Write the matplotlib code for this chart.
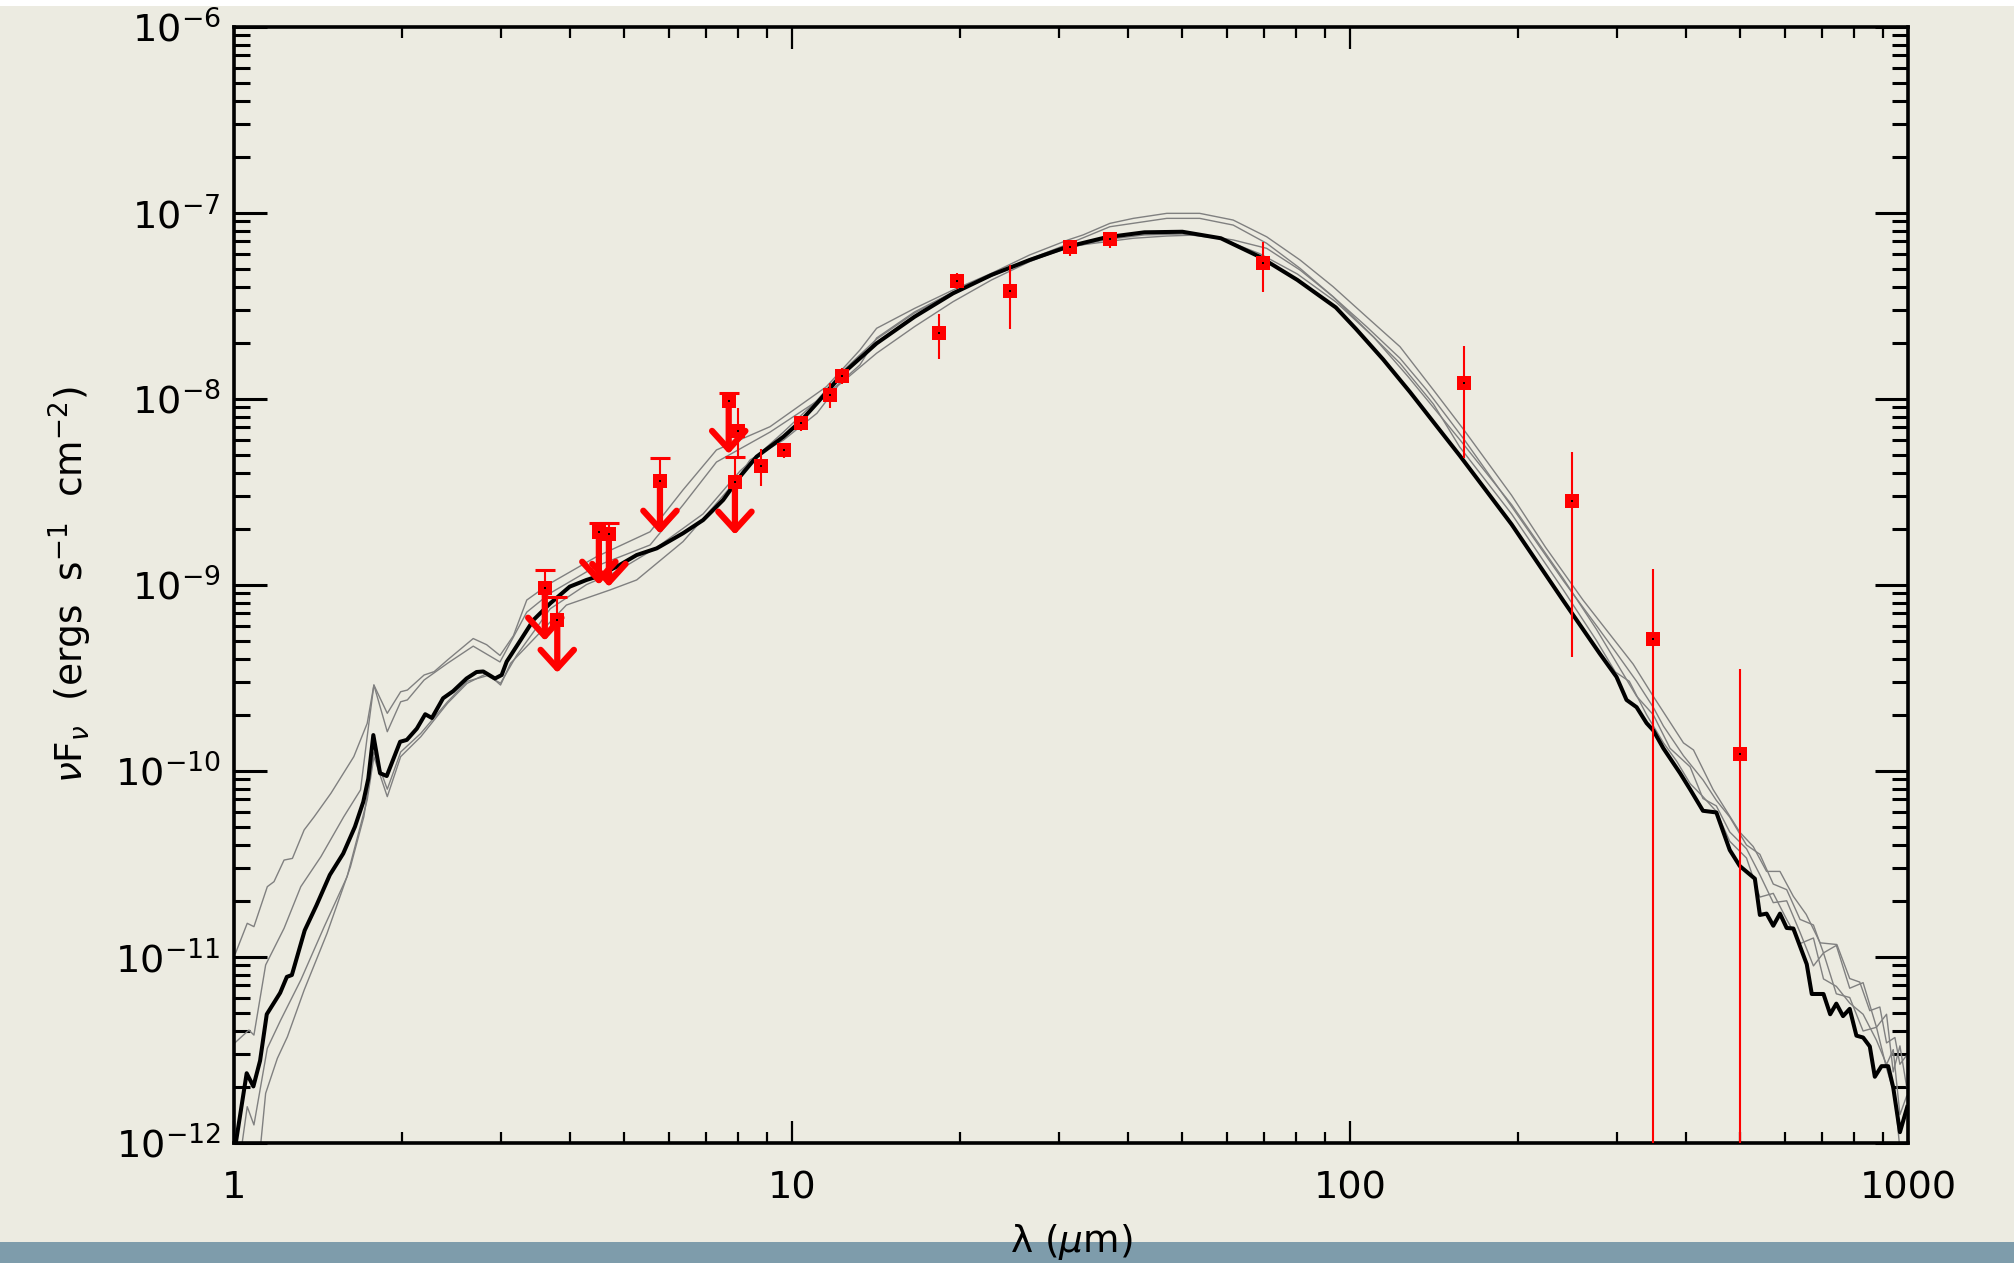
import numpy as np
import matplotlib
matplotlib.use("Agg")
import matplotlib.pyplot as plt
from matplotlib import ticker
from matplotlib.patches import Rectangle

plt.rcParams['font.family'] = ['DejaVu Sans']
plt.rcParams['mathtext.fontset'] = 'dejavusans'

# best-fit model SED (log10 wavelength in micron, log10 nuFnu in erg/s/cm2)
best_loglam = [0.000, 0.022, 0.034, 0.046, 0.058, 0.082, 0.094, 0.103, 0.126, 0.147,
               0.171, 0.195, 0.216, 0.231, 0.240, 0.249, 0.261, 0.273, 0.297, 0.309,
               0.327, 0.342, 0.354, 0.374, 0.392, 0.416, 0.434, 0.446, 0.467, 0.479,
               0.488, 0.513, 0.536, 0.566, 0.601, 0.631, 0.649, 0.685, 0.721, 0.757,
               0.804, 0.840, 0.876, 0.906, 0.936, 0.984, 1.014, 1.044, 1.091, 1.151,
               1.219, 1.288, 1.357, 1.425, 1.494, 1.562, 1.631, 1.699, 1.768, 1.837,
               1.905, 1.974, 2.010, 2.059, 2.107, 2.150, 2.196, 2.289, 2.382, 2.447,
               2.477, 2.495, 2.513, 2.531, 2.543, 2.561, 2.591, 2.609, 2.632, 2.656,
               2.680, 2.698, 2.725, 2.734, 2.746, 2.758, 2.770, 2.782, 2.794, 2.818,
               2.827, 2.848, 2.860, 2.871, 2.883, 2.895, 2.907, 2.919, 2.931, 2.940,
               2.952, 2.964, 2.973, 2.985, 2.998]
best_logflux = [-12.05, -11.627, -11.698, -11.560, -11.310, -11.195, -11.109, -11.099, -10.859, -10.725,
                -10.561, -10.446, -10.302, -10.168, -10.043, -9.809, -10.014, -10.029, -9.845, -9.835,
                -9.774, -9.697, -9.717, -9.611, -9.573, -9.505, -9.470, -9.467, -9.505, -9.486,
                -9.414, -9.298, -9.190, -9.101, -9.011, -8.975, -8.958, -8.904, -8.841, -8.805,
                -8.724, -8.653, -8.545, -8.420, -8.312, -8.205, -8.124, -8.025, -7.864, -7.703,
                -7.560, -7.434, -7.335, -7.255, -7.183, -7.133, -7.106, -7.103, -7.138, -7.237,
                -7.362, -7.510, -7.625, -7.790, -7.965, -8.130, -8.306, -8.676, -9.088, -9.371,
                -9.496, -9.620, -9.659, -9.745, -9.784, -9.880, -10.014, -10.101, -10.216, -10.225,
                -10.427, -10.513, -10.581, -10.776, -10.769, -10.834, -10.769, -10.846, -10.849, -11.041,
                -11.201, -11.201, -11.310, -11.253, -11.320, -11.281, -11.425, -11.435, -11.483, -11.646,
                -11.589, -11.589, -11.704, -11.944, -11.809]

# other acceptable models (grey)
mod1_loglam = [0.002, 0.023, 0.035, 0.059, 0.071, 0.089, 0.104, 0.125, 0.143, 0.173,
               0.214, 0.238, 0.250, 0.274, 0.298, 0.310, 0.340, 0.358, 0.382, 0.428,
               0.452, 0.476, 0.500, 0.524, 0.566, 0.649, 0.745, 0.804, 0.864, 0.960,
               1.061, 1.121, 1.151, 1.219, 1.288, 1.357, 1.425, 1.494, 1.521, 1.569,
               1.611, 1.671, 1.730, 1.790, 1.850, 1.910, 1.969, 2.029, 2.089, 2.149,
               2.204, 2.289, 2.350, 2.417, 2.507, 2.543, 2.597, 2.615, 2.650, 2.698,
               2.722, 2.746, 2.770, 2.794, 2.817, 2.842, 2.872, 2.895, 2.913, 2.931,
               2.949, 2.961, 2.976, 2.985, 2.997]
mod1_logflux = [-10.982, -10.821, -10.839, -10.624, -10.597, -10.481, -10.472, -10.319, -10.248, -10.122,
                -9.925, -9.746, -9.540, -9.692, -9.576, -9.567, -9.486, -9.468, -9.405, -9.290,
                -9.323, -9.381, -9.275, -9.083, -8.993, -8.850, -8.716, -8.491, -8.276, -8.151,
                -7.936, -7.739, -7.622, -7.515, -7.416, -7.326, -7.228, -7.147, -7.120, -7.058,
                -7.031, -7.004, -7.004, -7.040, -7.130, -7.255, -7.398, -7.560, -7.721, -7.954,
                -8.170, -8.520, -8.800, -9.083, -9.428, -9.601, -9.851, -9.889, -10.101, -10.331,
                -10.408, -10.542, -10.542, -10.676, -10.773, -10.926, -10.935, -11.118, -11.137, -11.291,
                -11.271, -11.464, -11.435, -11.579, -11.531]

mod2_loglam = [0.000, 0.026, 0.035, 0.056, 0.089, 0.119, 0.155, 0.196, 0.226, 0.241,
               0.250, 0.274, 0.298, 0.310, 0.340, 0.382, 0.428, 0.476, 0.524, 0.566,
               0.649, 0.745, 0.804, 0.864, 0.960, 1.061, 1.121, 1.151, 1.219, 1.288,
               1.357, 1.425, 1.494, 1.569, 1.671, 1.730, 1.790, 1.850, 1.910, 1.969,
               2.029, 2.089, 2.137, 2.204, 2.289, 2.382, 2.441, 2.475, 2.513, 2.543,
               2.561, 2.597, 2.632, 2.656, 2.680, 2.710, 2.734, 2.758, 2.782, 2.806,
               2.830, 2.848, 2.871, 2.895, 2.919, 2.943, 2.961, 2.973, 2.985, 2.997]
mod2_logflux = [-11.466, -11.395, -11.422, -11.045, -10.848, -10.624, -10.463, -10.248, -10.104, -9.746,
                -9.540, -9.791, -9.630, -9.620, -9.513, -9.423, -9.331, -9.416, -9.148, -9.046,
                -8.900, -8.787, -8.572, -8.341, -8.180, -7.980, -7.819, -7.674, -7.534, -7.427,
                -7.341, -7.250, -7.169, -7.076, -7.031, -7.031, -7.067, -7.165, -7.300, -7.452,
                -7.613, -7.783, -7.954, -8.220, -8.580, -8.980, -9.220, -9.360, -9.520, -9.660,
                -9.760, -9.920, -10.050, -10.160, -10.250, -10.400, -10.450, -10.610, -10.640, -10.800,
                -10.830, -10.980, -10.940, -11.170, -11.140, -11.380, -11.310, -11.620, -11.480, -11.700]

mod3_loglam = [0.000, 0.023, 0.035, 0.059, 0.083, 0.119, 0.161, 0.202, 0.238, 0.250,
               0.274, 0.298, 0.334, 0.382, 0.417, 0.453, 0.477, 0.495, 0.595, 0.673,
               0.721, 0.804, 0.864, 0.900, 0.924, 0.984, 1.044, 1.082, 1.151, 1.219,
               1.288, 1.357, 1.425, 1.494, 1.611, 1.671, 1.730, 1.790, 1.850, 1.910,
               1.969, 2.029, 2.089, 2.149, 2.196, 2.289, 2.382, 2.441, 2.475, 2.500,
               2.531, 2.561, 2.585, 2.609, 2.632, 2.656, 2.680, 2.710, 2.734, 2.758,
               2.782, 2.806, 2.830, 2.848, 2.871, 2.895, 2.919, 2.943, 2.961, 2.973,
               2.985, 2.997]
mod3_logflux = [-12.30, -11.807, -11.905, -11.493, -11.341, -11.126, -10.839, -10.570, -10.158, -9.925,
                -10.140, -9.925, -9.818, -9.638, -9.531, -9.477, -9.540, -9.423, -9.110, -9.029,
                -8.975, -8.769, -8.563, -8.438, -8.330, -8.223, -8.079, -7.930, -7.756, -7.613,
                -7.479, -7.362, -7.264, -7.183, -7.138, -7.126, -7.120, -7.147, -7.192, -7.309,
                -7.452, -7.631, -7.810, -8.030, -8.260, -8.620, -9.030, -9.300, -9.470, -9.520,
                -9.700, -9.850, -9.950, -10.070, -10.140, -10.220, -10.380, -10.470, -10.680, -10.660,
                -10.800, -10.930, -10.900, -11.120, -11.160, -11.250, -11.310, -11.450, -11.580, -11.500,
                -11.850, -11.750]

mod4_loglam = [0.047, 0.056, 0.077, 0.095, 0.125, 0.166, 0.208, 0.232, 0.250, 0.274,
               0.298, 0.334, 0.382, 0.417, 0.453, 0.477, 0.506, 0.566, 0.631, 0.685,
               0.757, 0.840, 0.906, 0.984, 1.044, 1.091, 1.151, 1.219, 1.288, 1.357,
               1.425, 1.494, 1.562, 1.631, 1.699, 1.768, 1.837, 1.905, 1.974, 2.042,
               2.103, 2.196, 2.289, 2.382, 2.441, 2.477, 2.513, 2.543, 2.573, 2.609,
               2.632, 2.656, 2.680, 2.710, 2.734, 2.758, 2.782, 2.806, 2.830, 2.848,
               2.871, 2.895, 2.919, 2.943, 2.961, 2.976, 2.990]
mod4_logflux = [-12.013, -11.735, -11.547, -11.431, -11.180, -10.875, -10.517, -10.248, -9.900, -10.100,
                -9.900, -9.800, -9.630, -9.520, -9.490, -9.530, -9.380, -9.130, -9.000, -8.930,
                -8.800, -8.620, -8.390, -8.180, -8.010, -7.850, -7.680, -7.540, -7.430, -7.340,
                -7.260, -7.190, -7.145, -7.120, -7.115, -7.140, -7.220, -7.330, -7.480, -7.670,
                -7.880, -8.220, -8.570, -8.970, -9.240, -9.420, -9.600, -9.700, -9.880, -9.980,
                -10.150, -10.190, -10.330, -10.420, -10.560, -10.710, -10.700, -10.870, -11.050, -10.980,
                -11.200, -11.220, -11.400, -11.380, -11.600, -11.750, -12.200]

# photometry: detections with errors
det_wave = [7.98, 8.77, 9.66, 10.36, 11.68, 12.27, 18.3, 19.7, 24.5, 31.5, 37.1, 69.8, 160.0, 250.0, 349.0, 500.0]
det_flux = [6.68e-9, 4.34e-9, 5.30e-9, 7.40e-9, 1.045e-8, 1.32e-8, 2.24e-8, 4.28e-8, 3.78e-8,
            6.56e-8, 7.21e-8, 5.33e-8, 1.21e-8, 2.80e-9, 5.08e-10, 1.23e-10]
det_hi = [8.88e-9, 5.35e-9, 5.77e-9, 8.05e-9, 1.21e-8, 1.46e-8, 2.84e-8, 4.72e-8, 5.22e-8,
          7.13e-8, 7.89e-8, 6.92e-8, 1.92e-8, 5.18e-9, 1.22e-9, 3.53e-10]
det_lo = [4.85e-9, 3.39e-9, 4.80e-9, 6.70e-9, 8.89e-9, 1.20e-8, 1.63e-8, 3.88e-8, 2.36e-8,
          5.85e-8, 6.47e-8, 3.76e-8, 4.81e-9, 4.06e-10, 1e-14, 1e-14]

# photometry: upper limits
ul_wave = [3.60, 3.79, 4.50, 4.69, 5.79, 7.69, 7.89]
ul_flux = [9.6e-10, 6.45e-10, 1.92e-9, 1.87e-9, 3.61e-9, 9.7e-9, 3.57e-9]
ul_hi = [1.20e-9, 8.6e-10, 2.15e-9, 2.15e-9, 4.80e-9, 1.07e-8, 4.85e-9]

x_ticks = [1, 10, 100, 1000]
y_ticks = [1e-12, 1e-11, 1e-10, 1e-9, 1e-8, 1e-7, 1e-6]

W, H = 2014, 1263
bg = '#ECEBE1'
fig = plt.figure(figsize=(W / 100, H / 100), dpi=100)
fig.patch.set_facecolor(bg)
fig.add_artist(Rectangle((0, 0), 1, 21 / H, transform=fig.transFigure,
                         facecolor='#7E9CAB', edgecolor='none', zorder=0))
fig.add_artist(Rectangle((0, 1 - 6 / H), 1, 6 / H, transform=fig.transFigure,
                         facecolor='white', edgecolor='none', zorder=0))

ax = fig.add_axes([234.4 / W, 120.4 / H, 1673.9 / W, 1116.0 / H])
ax.set_facecolor('none')
ax.set_xscale('log')
ax.set_yscale('log')

grey = '#808080'
for lx, ly in [(mod1_loglam, mod1_logflux), (mod2_loglam, mod2_logflux),
               (mod3_loglam, mod3_logflux), (mod4_loglam, mod4_logflux)]:
    ax.plot(10 ** np.array(lx), 10 ** np.array(ly), color=grey, lw=1.0, zorder=2)
ax.plot(10 ** np.array(best_loglam), 10 ** np.array(best_logflux), color='black', lw=2.9, zorder=3)

# detections
det_flux = np.array(det_flux)
yerr = [det_flux - np.array(det_lo), np.array(det_hi) - det_flux]
ax.errorbar(det_wave, det_flux, yerr=yerr, fmt='s', color='red', ms=9.5, mew=0,
            elinewidth=1.5, capsize=7, capthick=2.2, zorder=5)

# upper limits: cap above, thick arrow below
ul_flux = np.array(ul_flux)
eb = ax.errorbar(ul_wave, ul_flux, yerr=[np.zeros(len(ul_flux)), np.array(ul_hi) - ul_flux],
                 fmt='none', ecolor='red', elinewidth=1.5, capsize=7, capthick=2.2, zorder=4)
eb[1][0].set_visible(False)
for w, f in zip(ul_wave, ul_flux):
    ax.annotate('', xy=(w, f * 0.52), xytext=(w, f),
                arrowprops=dict(arrowstyle='->,head_length=0.55,head_width=0.5', color='red',
                                lw=4.5, shrinkA=0, shrinkB=0, mutation_scale=24),
                zorder=4)
ax.plot(ul_wave, ul_flux, 's', color='red', ms=9.5, mew=0, zorder=5)
ax.plot(list(det_wave) + list(ul_wave), list(det_flux) + list(ul_flux), 's',
        color='black', ms=1.5, mew=0, zorder=6)

ax.set_xlim(1, 1000)
ax.set_ylim(1e-12, 1e-6)

ax.xaxis.set_major_locator(ticker.FixedLocator(x_ticks))
ax.xaxis.set_minor_locator(ticker.LogLocator(base=10, subs=np.arange(2, 10), numticks=20))
ax.yaxis.set_major_locator(ticker.FixedLocator(y_ticks))
ax.yaxis.set_minor_locator(ticker.LogLocator(base=10, subs=np.arange(2, 10), numticks=20))
ax.xaxis.set_major_formatter(ticker.FuncFormatter(lambda v, p: f'{v:g}'))
ax.yaxis.set_major_formatter(ticker.LogFormatterSciNotation())
ax.xaxis.set_minor_formatter(ticker.NullFormatter())
ax.yaxis.set_minor_formatter(ticker.NullFormatter())

ax.tick_params(which='both', direction='in', top=True, right=True, colors='black')
ax.tick_params(axis='x', which='major', length=16, width=1.6, pad=20, labelsize=27.5)
ax.tick_params(axis='x', which='minor', length=8, width=1.6)
ax.tick_params(axis='y', which='major', length=24, width=2.2, pad=10, labelsize=27.5)
ax.tick_params(axis='y', which='minor', length=11.5, width=2.2)
for s in ax.spines.values():
    s.set_linewidth(2.6)

fig.text(70 / W, 1 - 585 / H, r'$\nu$F$_{\nu}$  (ergs  s$^{-1}$  cm$^{-2}$)',
         rotation=90, ha='center', va='center', fontsize=27)
fig.text(1071 / W, 21 / H, r'λ ($\mu$m)', ha='center', va='center', fontsize=27, zorder=5)

fig.savefig('out.png', dpi=100, facecolor=fig.get_facecolor())
